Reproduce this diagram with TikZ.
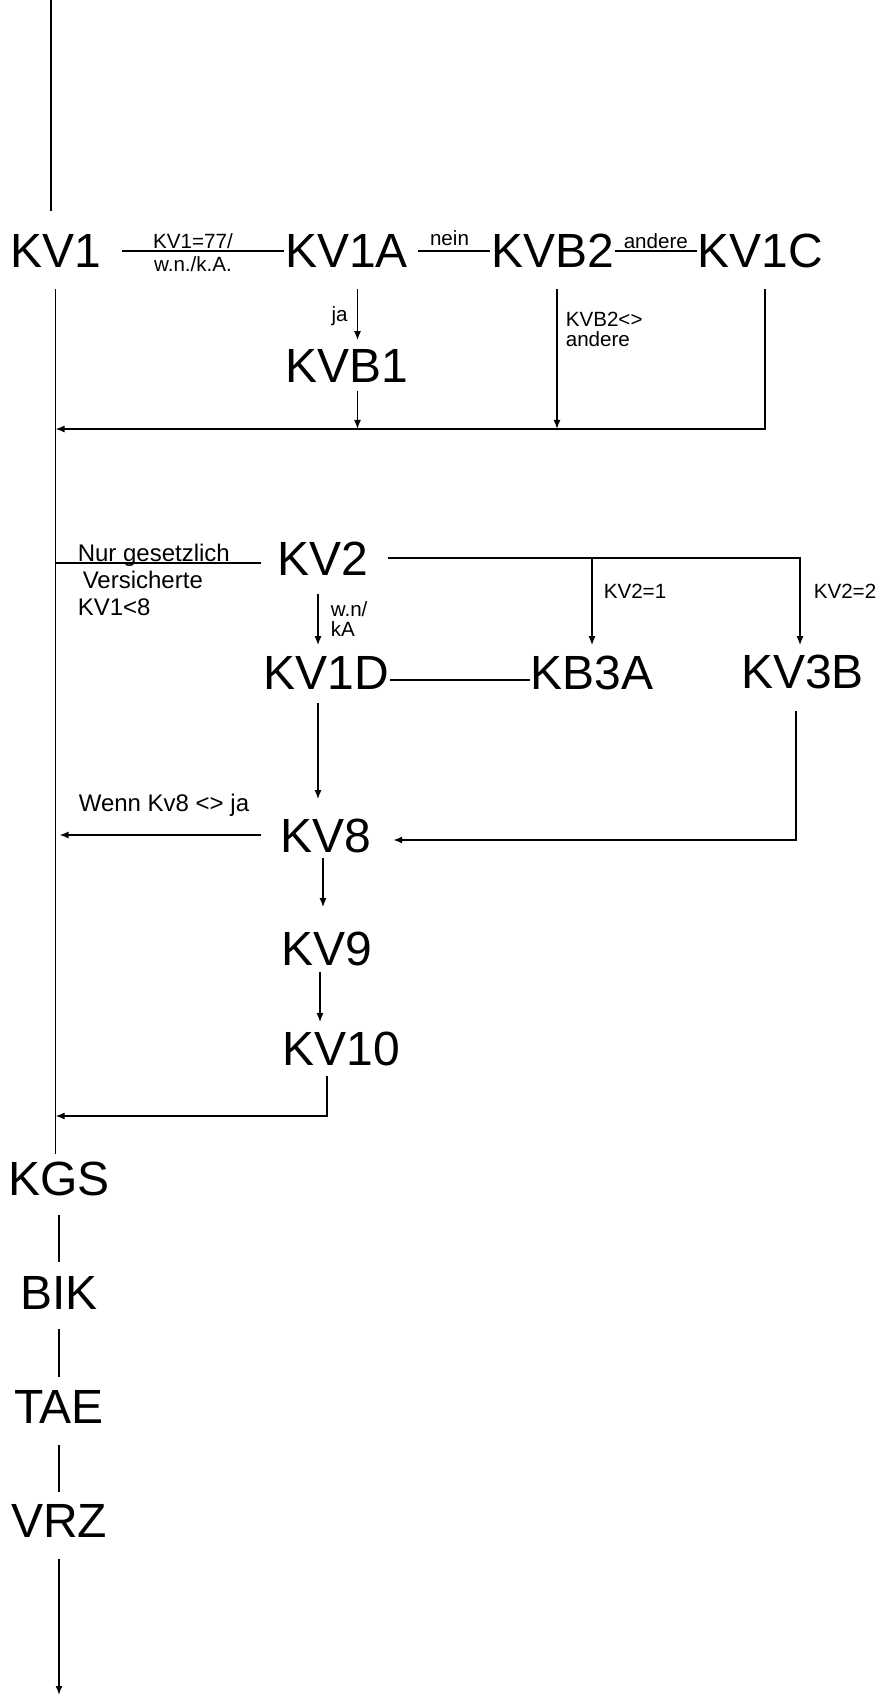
\documentclass[tikz,border=0pt]{standalone}
\usepackage{fontspec}
\setmainfont{Liberation Sans}
\usetikzlibrary{arrows.meta}

\begin{document}
\begin{tikzpicture}[x=0.5pt,y=-0.5pt,line width=0.8pt,
		var/.style={font=\fontsize{24}{28}\selectfont, inner sep=0pt, text height=17pt, text depth=0pt, anchor=base},
		cond/.style={font=\fontsize{10.3}{10}\selectfont, inner sep=0.5pt},
		note/.style={font=\fontsize{12}{13.5}\selectfont, inner sep=0pt},
		arr/.style={-{Latex[length=4.5pt,width=3.5pt]}}]
	\useasboundingbox (0,0) rectangle (875,1695);
	\node[var] (kv1) at (55.5,268) {KV1};
	\node[var] (kv1a) at (346.5,268) {KV1A};
	\node[var] (kvb2) at (552.5,268) {KVB2};
	\node[var] (kv1c) at (760.5,268) {KV1C};
	\node[var] (kvb1) at (346.5,383) {KVB1};
	\node[var] (kv2) at (322.5,575) {KV2};
	\node[var] (kv1d) at (326.5,689) {KV1D};
	\node[var] (kb3a) at (592,689) {KB3A};
	\node[var] (kv3b) at (802.5,688) {KV3B};
	\node[var] (kv8) at (326,852) {KV8};
	\node[var] (kv9) at (327,965) {KV9};
	\node[var] (kv10) at (341,1065) {KV10};
	\node[var] (kgs) at (59,1195) {KGS};
	\node[var] (bik) at (59,1309) {BIK};
	\node[var] (tae) at (59,1423) {TAE};
	\node[var] (vrz) at (59,1537) {VRZ};
	\coordinate (in) at (51,0);
	\coordinate (out) at (59,1695);
	\coordinate (j1) at (55.5,429);
	\coordinate (j2) at (55.5,563);
	\coordinate (j3) at (55.5,1116);
	\draw[shorten >=11pt] (in) -- (in |- kv1.north);
	\draw[shorten <=10pt] (kv1.east) -- (kv1a.west)
		node[cond, midway, above] {KV1=77/}
		node[cond, midway, below=2pt] {w.n./k.A.};
	\draw[shorten <=4.5pt] (kv1a.east) -- (kvb2.west) node[cond, midway, above=1.5pt] {nein};
	\draw (kvb2.east) -- (kv1c.west) node[cond, midway, above=0pt] {andere};
	\draw[arr, shorten <=10pt, shorten >=4pt] ([xshift=5.5pt]kv1a.south) -- ([xshift=5.5pt]kvb1.north)
		node[cond, pos=0.6, left=4pt] {ja};
	\draw[arr, shorten <=3.5pt] ([xshift=5.5pt]kvb1.south) -- ([xshift=5.5pt]kvb1.south |- j1);
	\draw[arr, shorten <=10pt] ([xshift=2.25pt]kvb2.south) -- ([xshift=2.25pt]kvb2.south |- j1);
	\node[cond, inner sep=0pt, align=left, anchor=north west] (kvb2andere) at (565,311) {KVB2<>\\andere};
	\draw[arr, shorten <=10pt] ([xshift=2.25pt]kv1c.south) |- (j1);
	\draw[shorten <=10pt, shorten >=3pt] (kv1.south) -- (kv1.south |- kgs.north);
	\draw[shorten >=7.5pt] (j2) -- (j2 -| kv2.west);
	\node[note, align=left, anchor=north west] (nur) at (77,543) {Nur gesetzlich\\\hspace*{2.5pt}Versicherte\\KV1<8};
	\draw[arr, shorten <=9.5pt, shorten >=4pt] (kv2.east) -| ([xshift=-1.25pt]kv3b.north);
	\node[cond, anchor=base west] (kv2zwei) at (812,598) {KV2=2};
	\draw[arr, shorten >=4.5pt] (kb3a.north |- kv2.east) -- (kb3a.north);
	\node[cond, anchor=base west] (kv2eins) at (602,598) {KV2=1};
	\draw[arr, shorten <=9pt, shorten >=4.5pt] ([xshift=-2.25pt]kv2.south) -- ([xshift=-2.25pt]kv2.south |- kv1d.north);
	\node[cond, inner sep=0pt, align=left, anchor=north west] (wnka) at (330,601) {w.n/\\kA};
	\draw ([yshift=-4pt]kv1d.east) -- ([yshift=-4pt]kb3a.west);
	\draw[arr, shorten <=6.5pt, shorten >=9pt] ([xshift=-4.25pt]kv1d.south) -- ([xshift=-4.25pt]kv1d.south |- kv8.north);
	\draw[arr, shorten <=11pt, shorten >=10.5pt] ([xshift=-3.25pt]kv3b.south) |- ([yshift=-2.5pt]kv8.east);
	\draw[arr, shorten <=9.5pt, shorten >=2pt] (kv8.west) -- (kv8.west -| kv1.south);
	\node[note, anchor=base west] (wenn) at (78,811) {Wenn Kv8 <> ja};
	\draw[arr, shorten <=2.5pt, shorten >=11.5pt] ([xshift=-1.5pt]kv8.south) -- ([xshift=-1.5pt]kv8.south |- kv9.north);
	\draw[arr, shorten <=3pt, shorten >=4pt] ([xshift=-3.5pt]kv9.south) -- ([xshift=-3.5pt]kv9.south |- kv10.north);
	\draw[arr, shorten <=5pt] ([xshift=-7pt]kv10.south) |- (j3);
	\draw[shorten <=9.5pt, shorten >=6pt] (kgs.south) -- (bik.north);
	\draw[shorten <=9.5pt, shorten >=5.5pt] (bik.south) -- (tae.north);
	\draw[shorten <=10.5pt, shorten >=5pt] (tae.south) -- (vrz.north);
	\draw[arr, shorten <=10.5pt] (vrz.south) -- (out);
\end{tikzpicture}
\end{document}
